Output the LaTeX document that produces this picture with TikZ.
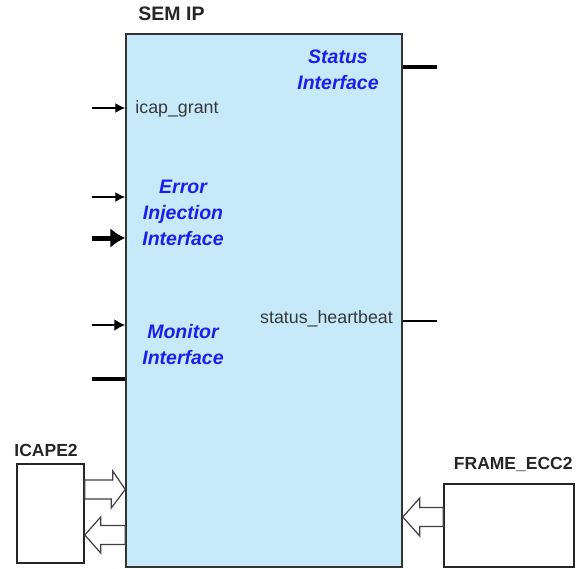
\documentclass[tikz,border=0pt]{standalone}
\usepackage{fontspec}
\setmainfont{Liberation Sans}
\usetikzlibrary{positioning,arrows.meta,calc}
\definecolor{semfill}{RGB}{198,234,250}
\definecolor{ifblue}{RGB}{30,30,235}
\definecolor{lblgray}{RGB}{55,55,55}

\begin{document}
\begin{tikzpicture}[
    x=1pt, y=-1pt,
    sembox/.style={draw=black!80, fill=semfill, line width=1.5pt,
                   minimum width=276pt, minimum height=533pt, inner sep=0pt},
    blk/.style={draw=black!85, fill=white, line width=1.5pt, inner sep=0pt},
    title/.style={font=\fontsize{17.5}{20}\selectfont\bfseries, text=black!85,
                  inner sep=1pt},
    ifname/.style={font=\fontsize{19.5}{26}\selectfont\bfseries\itshape,
                   text=ifblue, align=center, inner sep=0pt},
    port/.style={font=\fontsize{17.8}{20}\selectfont, text=lblgray, inner sep=0pt},
    sig/.style={-{Latex[length=10pt,width=10pt]}, line width=1.4pt},
    bus/.style={-{Latex[length=11pt,width=12pt]}, line width=2.8pt},
    wide/.style={-{Latex[length=15pt,width=20pt]}, line width=5pt},
    stub/.style={line width=3.5pt},
    hollow/.style={draw=black!75, fill=white, line width=1.2pt, line join=miter}
  ]
  \useasboundingbox (0,0) rectangle (576,568);

  % ---- SEM IP core ----
  \node[sembox] (sem) at (264,300.5) {};
  \node[title, font=\fontsize{19.5}{22}\selectfont\bfseries,
        above right=11pt and 12pt of sem.north west] (semlbl) {SEM IP};

  % ---- interface names ----
  \node[ifname] (statif) at (338,69.5) {Status\\Interface};
  \node[ifname] (errif) at (183,212.5) {Error\\Injection\\Interface};
  \node[ifname] (monif) at (183,344.5) {Monitor\\Interface};

  % ---- left side ports ----
  \coordinate (grantin) at (92,108);
  \draw[sig] (grantin) -- (grantin -| sem.west);
  \node[port, anchor=west] (grant) at ($(grantin -| sem.west)+(10,0.5)$)
    {icap\_grant};

  \coordinate (errin) at (92,197);
  \draw[sig] (errin) -- (errin -| sem.west);
  \coordinate (injin) at (92,238);
  \draw[wide] (injin) -- (injin -| sem.west);

  \coordinate (monin) at (92,325);
  \draw[bus] (monin) -- (monin -| sem.west);
  \coordinate (monout) at (92,379);
  \draw[stub] (monout) -- (monout -| sem.west);

  % ---- right side ports ----
  \coordinate (statout) at (437,67);
  \draw[stub] (sem.east |- statout) -- (statout);
  \coordinate (hbout) at (437,321);
  \draw[line width=1.2pt] (sem.east |- hbout) -- (hbout);
  \node[port, anchor=east] (hb) at (393,318.5) {status\_heartbeat};

  % ---- ICAPE2 primitive ----
  \node[blk, minimum width=67pt, minimum height=99pt] (icape) at (50.5,513.5) {};
  \node[title, above right=5pt and -3pt of icape.north west] (icapelbl) {ICAPE2};
  \coordinate (cfg) at ($(icape.east)+(0,-24)$);
  \draw[hollow] ($(cfg)+(0,-9.5)$) -- ++(28,0) -- ++(0,-9)
    -- (cfg -| sem.west) -- ++(-14,18.5) -- ++(0,-9)
    -- ($(cfg)+(0,9.5)$) -- cycle;
  \coordinate (rdbk) at ($(icape.east)+(0,21.5)$);
  \draw[hollow] (rdbk) -- ++(16,-18) -- ++(0,8.5)
    -- ($(rdbk -| sem.west)+(0,-9.5)$) -- ++(0,19)
    -- ($(rdbk)+(16,9.5)$) -- ++(0,8.5) -- cycle;

  % ---- FRAME_ECC2 primitive ----
  \node[blk, minimum width=130pt, minimum height=83pt] (frame) at (509,525.5) {};
  \node[title, above left=10pt and 1pt of frame.north east] (framelbl) {FRAME\_ECC2};
  \coordinate (eccin) at ($(frame.west)+(0,-8.5)$);
  \draw[hollow] (eccin -| sem.east) -- ++(17,-19) -- ++(0,9.5)
    -- ($(eccin)+(0,-9.5)$) -- ++(0,19)
    -- ($(eccin -| sem.east)+(17,9.5)$) -- ++(0,9.5) -- cycle;

\end{tikzpicture}
\end{document}
